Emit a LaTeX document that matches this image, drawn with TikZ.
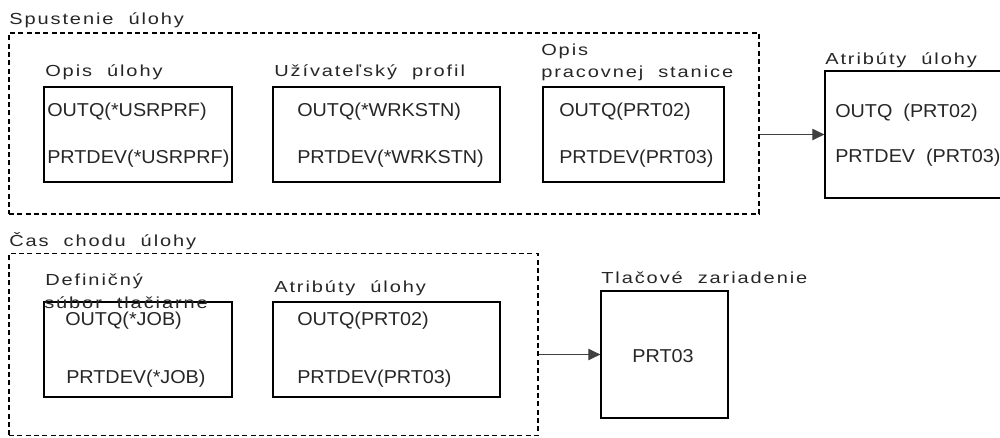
\documentclass[tikz,border=0pt]{standalone}
\usepackage{fontspec}
\setmainfont{Liberation Sans}[FakeStretch=1.06]
\newfontfamily\labelfont[FakeStretch=1.25, LetterSpace=12, WordSpace=2]{Liberation Sans}
\usetikzlibrary{arrows.meta}

\begin{document}
\begin{tikzpicture}[x=0.75pt,y=-0.75pt,
  box/.style={draw=black, line width=0.9pt, inner sep=0pt},
  frame/.style={draw=black, line width=0.8pt, dash pattern=on 3.75pt off 2.5pt, inner sep=0pt},
  title/.style={anchor=base west, inner sep=0pt, font=\labelfont\fontsize{12}{14}\selectfont, text=black!85},
  val/.style={anchor=base west, inner sep=0pt, font=\fontsize{14}{17}\selectfont, text=black!85},
  flow/.style={draw=black!75, line width=0.7pt, -{Triangle[length=9pt,width=8.5pt]}}]
\useasboundingbox (0,0) rectangle (1000,437);
\clip (0,0) rectangle (1000,437);

% --- job start group ---
\node[frame, minimum width=750*0.75pt, minimum height=181*0.75pt] (start) at (384,123.5) {};
\node[title] (startlbl) at (9,24) {Spustenie úlohy};

\node[box, minimum width=188*0.75pt, minimum height=95*0.75pt] (jobd) at (138,134.5) {};
\node[title] (jobdlbl) at (45,76) {Opis úlohy};
\node[val] (jobdq) at (47,116.5) {OUTQ(*USRPRF)};
\node[val] (jobdp) at (47,163) {PRTDEV(*USRPRF)};

\node[box, minimum width=227*0.75pt, minimum height=95*0.75pt] (usr) at (386.5,134.5) {};
\node[title] (usrlbl) at (274,76) {Užívateľský profil};
\node[val] (usrq) at (297,116.5) {OUTQ(*WRKSTN)};
\node[val] (usrp) at (297,163) {PRTDEV(*WRKSTN)};

\node[box, minimum width=181*0.75pt, minimum height=95*0.75pt] (wrk) at (633.5,134.5) {};
\node[title] (wrklbla) at (541,55) {Opis};
\node[title] (wrklblb) at (541,77) {pracovnej stanice};
\node[val] (wrkq) at (559,116.5) {OUTQ(PRT02)};
\node[val] (wrkp) at (559,163) {PRTDEV(PRT03)};

\node[box, minimum width=178*0.75pt, minimum height=127*0.75pt] (attr) at (914,134.5) {};
\node[title] (attrlbl) at (825,64) {Atribúty úlohy};
\node[val] (attrq) at (835,117) {OUTQ\ \ (PRT02)};
\node[val] (attrp) at (835,162) {PRTDEV\ \ (PRT03)};

\draw[flow] (start.east |- attr.west) -- (attr.west);

% --- job run time group ---
\node[frame, minimum width=529*0.75pt, minimum height=182*0.75pt] (run) at (273.5,344.5) {};
\node[title] (runlbl) at (9,246) {Čas chodu úlohy};

\node[box, minimum width=188*0.75pt, minimum height=95*0.75pt] (prtf) at (138,349.5) {};
\node[title] (prtflbla) at (45,285) {Definičný};
\node[title] (prtflblb) at (44,308) {súbor tlačiarne};
\node[val] (prtfq) at (65,325) {OUTQ(*JOB)};
\node[val] (prtfp) at (66,383) {PRTDEV(*JOB)};

\node[box, minimum width=227*0.75pt, minimum height=95*0.75pt] (jattr) at (386.5,349.5) {};
\node[title] (jattrlbl) at (274,292) {Atribúty úlohy};
\node[val] (jattrq) at (297,325) {OUTQ(PRT02)};
\node[val] (jattrp) at (297,383) {PRTDEV(PRT03)};

\node[box, minimum width=127*0.75pt, minimum height=127*0.75pt] (dev) at (664.5,354.5) {};
\node[title] (devlbl) at (601,283) {Tlačové zariadenie};
\node[val, anchor=base] (devname) at (663,362) {PRT03};

\draw[flow] (run.east |- dev.west) -- (dev.west);
\end{tikzpicture}
\end{document}
